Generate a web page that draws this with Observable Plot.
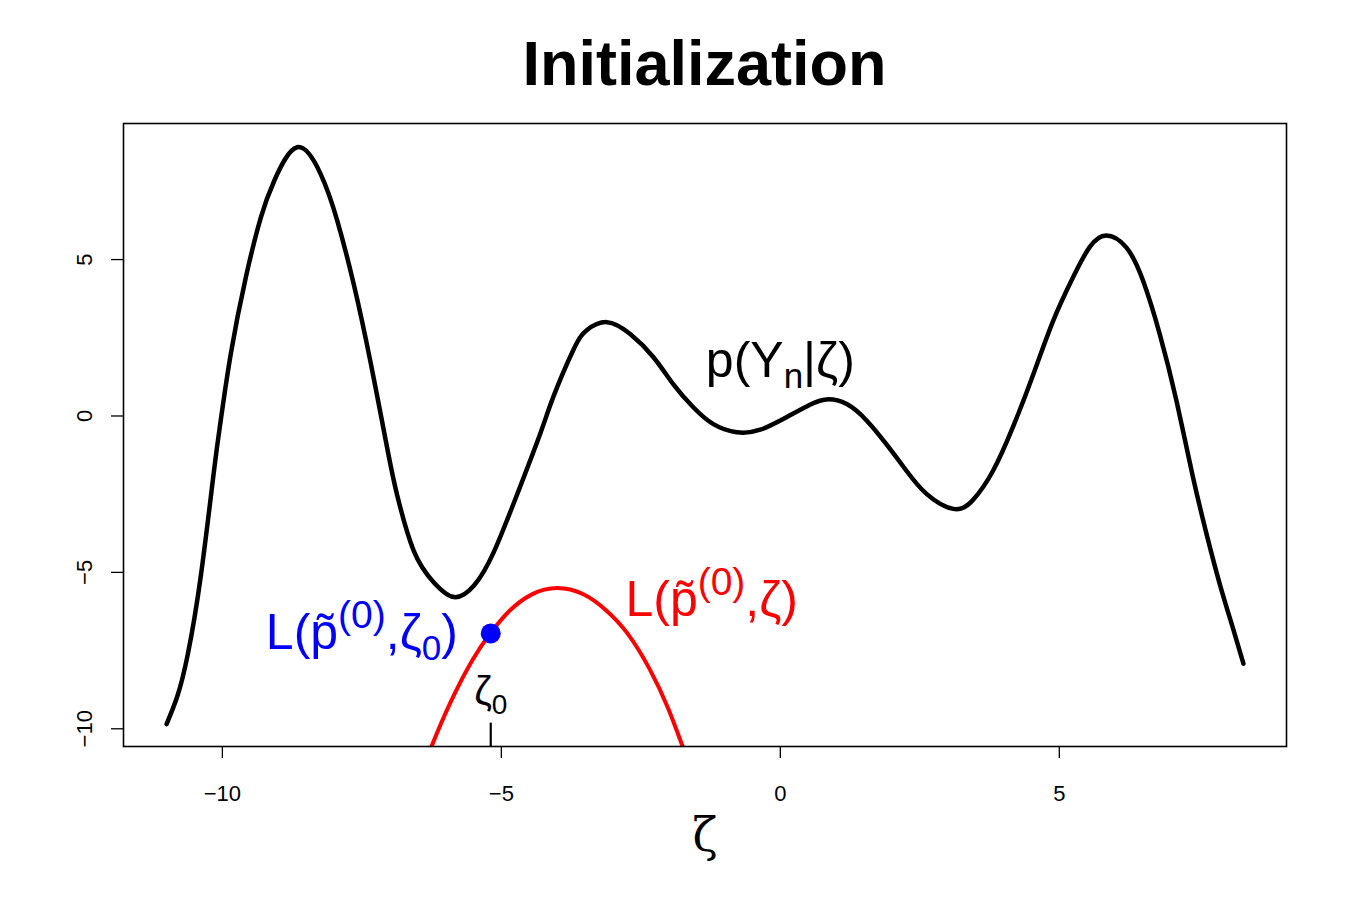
<!DOCTYPE html>
<html>
<head>
<meta charset="utf-8">
<script src="https://cdn.jsdelivr.net/npm/d3@7"></script>
<script src="https://cdn.jsdelivr.net/npm/@observablehq/plot@0.6"></script>
<style>
  body { margin: 0; background: #fff; }
  #wrap { width: 1350px; }
  #title {
    position: relative; height: 100px; box-sizing: border-box; padding-top: 28px;
    font-family: "Liberation Sans", Arial, sans-serif; font-weight: bold;
    font-size: 63px; line-height: 70px;
  }
  #title span { position: absolute; left: 123px; width: 1163px; text-align: center; top: 28px; }
  svg { display: block; }
</style>
</head>
<body>
<div id="wrap">
  <div id="title"><span>Initialization</span></div>
  <div id="chart"></div>
</div>
<script>
// ---- data ----
const titleText = "Initialization";
const xTicks = [-10, -5, 0, 5];
const yTicks = [-10, -5, 0, 5];
const xDomain = [-11.772, 9.072];
const yDomain = [-10.566, 9.35];

// black curve p(Y_n | zeta)
const curveZeta = [-11.0, -10.80, -10.62, -10.39, -10.15, -10.03, -9.85, -9.58, -9.31, -9.07, -8.66,
  -8.24, -7.94, -7.64, -7.34, -7.04, -6.87, -6.57, -6.21, -5.85, -5.49,
  -5.14, -4.72, -4.30, -4.06, -3.71, -3.47, -3.11, -2.69, -2.27, -1.92,
  -1.56, -1.20, -0.78, -0.36, 0.11, 0.53, 0.83, 1.19, 1.55, 1.90,
  2.26, 2.62, 3.10, 3.45, 3.81, 4.17, 4.53, 4.89, 5.24, 5.54,
  5.84, 6.20, 6.50, 6.80, 7.10, 7.39, 7.66, 7.89, 8.12, 8.30];
const curveValue = [-9.85, -8.92, -7.62, -5.16, -1.75, -0.15, 1.98, 4.43, 6.35, 7.52, 8.59,
  7.74, 6.24, 4.17, 1.68, -1.08, -2.51, -4.31, -5.32, -5.79, -5.42,
  -4.37, -2.52, -0.55, 0.65, 2.11, 2.74, 3.00, 2.62, 1.87, 1.02,
  0.28, -0.26, -0.52, -0.44, -0.04, 0.36, 0.53, 0.38, -0.15, -0.90,
  -1.75, -2.49, -2.97, -2.69, -1.76, -0.35, 1.31, 3.04, 4.41, 5.39,
  5.77, 5.39, 4.33, 2.62, 0.49, -1.91, -3.92, -5.46, -6.83, -7.92];

// red curve L(p~(0), zeta)
const boundZeta = [-6.40, -6.25, -5.92, -5.52, -5.19, -4.86, -4.46, -4.00, -3.53, -3.13, -2.74, -2.34, -2.01, -1.76, -1.60];
const boundValue = [-11.26, -10.56, -9.19, -7.81, -6.93, -6.24, -5.71, -5.50, -5.70, -6.20, -6.95, -8.10, -9.35, -10.52, -11.26];

// initial point zeta_0
const zeta0 = [-5.19];
const zeta0Value = [-6.95];
const zeta0TickTop = [-9.82];

// annotations (data coordinates)
const labelKeys = ["p(Yn|ζ)", "L(p̃(0),ζ)", "L(p̃(0),ζ0)", "ζ0"];
const labelX = [0.0, -1.23, -7.50, -5.19];
const labelY = [1.24, -6.40, -7.45, -9.25];
const labelColor = ["black", "red", "blue", "black"];
const labelSize = [50, 50, 50, 40];
// rich-text segments: [text, mode]  mode: "" normal, "sub", "sup"
const labelParts = [
  [["p(Y", ""], ["n", "sub"], ["|ζ)", ""]],
  [["L(p̃", ""], ["(0)", "sup"], [",ζ)", ""]],
  [["L(p̃", ""], ["(0)", "sup"], [",ζ", ""], ["0", "sub"], [")", ""]],
  [["ζ", ""], ["0", "sub"]]
];
const xAxisLabel = "ζ";

// ---- build tables ----
const curve = curveZeta.map((z, i) => ({z, v: curveValue[i]}));
const bound = boundZeta.map((z, i) => ({z, v: boundValue[i]}));
const point = zeta0.map((z, i) => ({z, v: zeta0Value[i], top: zeta0TickTop[i]}));
const labels = labelKeys.map((t, i) => ({t, x: labelX[i], y: labelY[i], c: labelColor[i], s: labelSize[i], i}));

document.querySelector("#title span").textContent = titleText;

const fmt = d3.format("d");
const font = "'Liberation Sans', Arial, Helvetica, sans-serif";

const chart = Plot.plot({
  width: 1350,
  height: 800,
  marginTop: 23,
  marginBottom: 154,
  marginLeft: 123,
  marginRight: 64,
  style: {fontFamily: font, background: "white", color: "black"},
  x: {domain: xDomain},
  y: {domain: yDomain},
  marks: [
    Plot.axisX(xTicks, {tickSize: 12, tickPadding: 27, fontSize: 22, label: null, tickFormat: fmt, strokeWidth: 1.3}),
    Plot.axisY(yTicks, {tickSize: 12, tickPadding: 20, tickRotate: -90, fontSize: 22, label: null, tickFormat: fmt, strokeWidth: 1.3}),
    Plot.line(bound, {x: "z", y: "v", stroke: "#ff0000", strokeWidth: 4, curve: "natural", clip: true}),
    Plot.line(curve, {x: "z", y: "v", stroke: "black", strokeWidth: 4.5, curve: "natural"}),
    Plot.ruleX(point, {x: "z", y1: "top", y2: yDomain[0], stroke: "black", strokeWidth: 2.2}),
    Plot.dot(point, {x: "z", y: "v", r: 10, fill: "#0000ff", stroke: null}),
    ...labels.map(l => Plot.text([l], {x: "x", y: "y", text: "t", fill: l.c, fontSize: l.s, lineAnchor: "bottom", textAnchor: "middle", fontFamily: font})),
    Plot.text([xAxisLabel], {frameAnchor: "bottom", dy: 104, lineAnchor: "bottom", fontSize: 46, fontFamily: "'DejaVu Serif', 'Liberation Serif', serif"}),
    Plot.frame({stroke: "black", strokeWidth: 1.6})
  ]
});

// rich text (subscripts / superscripts)
d3.select(chart).selectAll("text").each(function () {
  const idx = labelKeys.indexOf(this.textContent);
  if (idx < 0) return;
  const size = labelSize[idx];
  const el = d3.select(this);
  el.text(null);
  let shift = 0;
  for (const [txt, mode] of labelParts[idx]) {
    const target = mode === "sup" ? -0.42 * size : mode === "sub" ? 0.22 * size : 0;
    const ts = el.append("tspan").text(txt).attr("dy", target - shift);
    if (mode === "sup") ts.attr("font-size", 0.78 * size);
    if (mode === "sub") ts.attr("font-size", 0.7 * size);
    shift = target;
  }
});

document.getElementById("chart").appendChild(chart);
</script>
</body>
</html>
